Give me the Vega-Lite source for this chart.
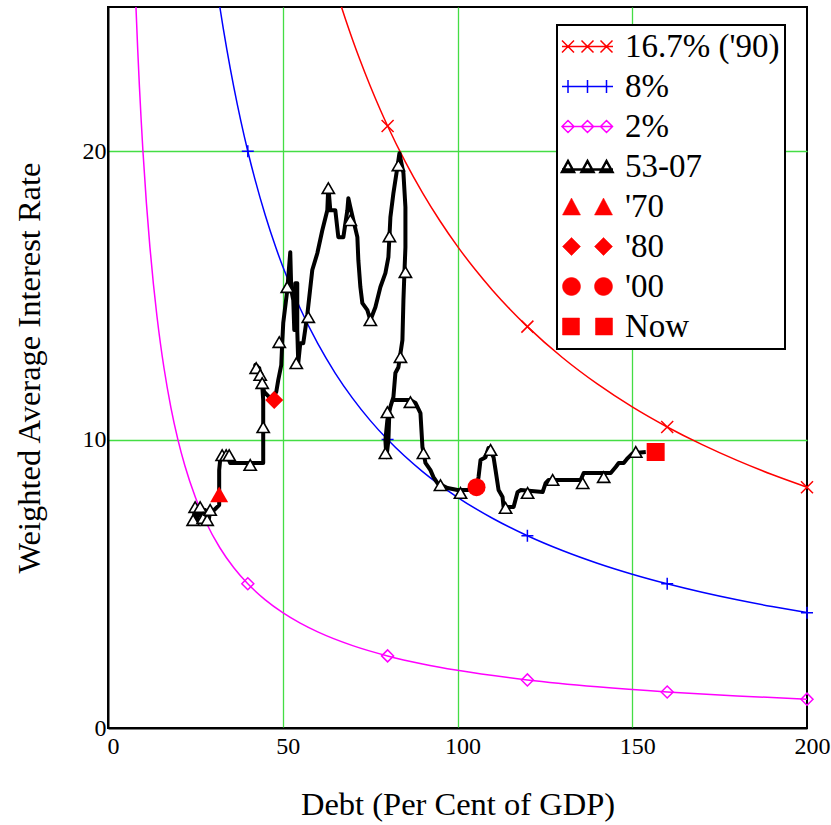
{
  "$schema": "https://vega.github.io/schema/vega-lite/v6.json",
  "width": 699,
  "height": 721,
  "autosize": {"type": "none"},
  "padding": {"left": 108, "top": 7, "right": 24, "bottom": 97},
  "config": {
    "font": "Liberation Serif",
    "view": {"stroke": "black", "strokeWidth": 2},
    "axis": {"labelFont": "Liberation Serif", "titleFont": "Liberation Serif", "labelColor": "black", "titleColor": "black", "titleFontWeight": "normal", "labelFontSize": 24, "titleFontSize": 32.5, "ticks": false, "domainColor": "black", "domainWidth": 2, "gridColor": "#44dd44", "gridWidth": 1.3, "labelFlush": false, "labelOverlap": false, "labelBound": false}
  },
  "datasets": {
    "curves": [
      {"series": "16.7% ('90)", "x": 66.8, "y": 25}, {"series": "16.7% ('90)", "x": 68, "y": 24.559}, {"series": "16.7% ('90)", "x": 70, "y": 23.857}, {"series": "16.7% ('90)", "x": 72, "y": 23.194}, {"series": "16.7% ('90)", "x": 75, "y": 22.267}, {"series": "16.7% ('90)", "x": 78, "y": 21.41}, {"series": "16.7% ('90)", "x": 80, "y": 20.875}, {"series": "16.7% ('90)", "x": 85, "y": 19.647}, {"series": "16.7% ('90)", "x": 90, "y": 18.556}, {"series": "16.7% ('90)", "x": 95, "y": 17.579}, {"series": "16.7% ('90)", "x": 100, "y": 16.7}, {"series": "16.7% ('90)", "x": 105, "y": 15.905}, {"series": "16.7% ('90)", "x": 110, "y": 15.182}, {"series": "16.7% ('90)", "x": 115, "y": 14.522}, {"series": "16.7% ('90)", "x": 120, "y": 13.917}, {"series": "16.7% ('90)", "x": 130, "y": 12.846}, {"series": "16.7% ('90)", "x": 140, "y": 11.929}, {"series": "16.7% ('90)", "x": 150, "y": 11.133}, {"series": "16.7% ('90)", "x": 160, "y": 10.438}, {"series": "16.7% ('90)", "x": 170, "y": 9.824}, {"series": "16.7% ('90)", "x": 180, "y": 9.278}, {"series": "16.7% ('90)", "x": 190, "y": 8.789}, {"series": "16.7% ('90)", "x": 200, "y": 8.35},
      {"series": "8%", "x": 32, "y": 25}, {"series": "8%", "x": 33, "y": 24.242}, {"series": "8%", "x": 34, "y": 23.529}, {"series": "8%", "x": 36, "y": 22.222}, {"series": "8%", "x": 38, "y": 21.053}, {"series": "8%", "x": 40, "y": 20}, {"series": "8%", "x": 42, "y": 19.048}, {"series": "8%", "x": 45, "y": 17.778}, {"series": "8%", "x": 48, "y": 16.667}, {"series": "8%", "x": 50, "y": 16}, {"series": "8%", "x": 55, "y": 14.545}, {"series": "8%", "x": 60, "y": 13.333}, {"series": "8%", "x": 65, "y": 12.308}, {"series": "8%", "x": 70, "y": 11.429}, {"series": "8%", "x": 75, "y": 10.667}, {"series": "8%", "x": 80, "y": 10}, {"series": "8%", "x": 90, "y": 8.889}, {"series": "8%", "x": 100, "y": 8}, {"series": "8%", "x": 110, "y": 7.273}, {"series": "8%", "x": 120, "y": 6.667}, {"series": "8%", "x": 130, "y": 6.154}, {"series": "8%", "x": 140, "y": 5.714}, {"series": "8%", "x": 150, "y": 5.333}, {"series": "8%", "x": 160, "y": 5}, {"series": "8%", "x": 170, "y": 4.706}, {"series": "8%", "x": 180, "y": 4.444}, {"series": "8%", "x": 190, "y": 4.211}, {"series": "8%", "x": 200, "y": 4},
      {"series": "2%", "x": 8, "y": 25}, {"series": "2%", "x": 8.5, "y": 23.529}, {"series": "2%", "x": 9, "y": 22.222}, {"series": "2%", "x": 9.5, "y": 21.053}, {"series": "2%", "x": 10, "y": 20}, {"series": "2%", "x": 11, "y": 18.182}, {"series": "2%", "x": 12, "y": 16.667}, {"series": "2%", "x": 13, "y": 15.385}, {"series": "2%", "x": 14, "y": 14.286}, {"series": "2%", "x": 15, "y": 13.333}, {"series": "2%", "x": 16, "y": 12.5}, {"series": "2%", "x": 18, "y": 11.111}, {"series": "2%", "x": 20, "y": 10}, {"series": "2%", "x": 22, "y": 9.091}, {"series": "2%", "x": 25, "y": 8}, {"series": "2%", "x": 28, "y": 7.143}, {"series": "2%", "x": 32, "y": 6.25}, {"series": "2%", "x": 36, "y": 5.556}, {"series": "2%", "x": 40, "y": 5}, {"series": "2%", "x": 45, "y": 4.444}, {"series": "2%", "x": 50, "y": 4}, {"series": "2%", "x": 55, "y": 3.636}, {"series": "2%", "x": 60, "y": 3.333}, {"series": "2%", "x": 70, "y": 2.857}, {"series": "2%", "x": 80, "y": 2.5}, {"series": "2%", "x": 90, "y": 2.222}, {"series": "2%", "x": 100, "y": 2}, {"series": "2%", "x": 120, "y": 1.667}, {"series": "2%", "x": 140, "y": 1.429}, {"series": "2%", "x": 160, "y": 1.25}, {"series": "2%", "x": 180, "y": 1.111}, {"series": "2%", "x": 200, "y": 1}
    ],
    "curveMarks": [
      {"series": "16.7% ('90)", "x": 80, "y": 20.875}, {"series": "16.7% ('90)", "x": 120, "y": 13.917}, {"series": "16.7% ('90)", "x": 160, "y": 10.438}, {"series": "16.7% ('90)", "x": 200, "y": 8.35},
      {"series": "8%", "x": 40, "y": 20}, {"series": "8%", "x": 80, "y": 10}, {"series": "8%", "x": 120, "y": 6.667}, {"series": "8%", "x": 160, "y": 5}, {"series": "8%", "x": 200, "y": 4},
      {"series": "2%", "x": 40, "y": 5}, {"series": "2%", "x": 80, "y": 2.5}, {"series": "2%", "x": 120, "y": 1.667}, {"series": "2%", "x": 160, "y": 1.25}, {"series": "2%", "x": 200, "y": 1}
    ],
    "path": [
      {"i": 1, "x": 24.36, "y": 7.11}, {"i": 2, "x": 24.93, "y": 7.66}, {"i": 3, "x": 25.5, "y": 7.21}, {"i": 4, "x": 26.36, "y": 7.66}, {"i": 5, "x": 27.22, "y": 7.21}, {"i": 6, "x": 27.79, "y": 7.56}, {"i": 7, "x": 28.65, "y": 7.11}, {"i": 8, "x": 29.23, "y": 7.49}, {"i": 9, "x": 30.37, "y": 7.56}, {"i": 10, "x": 31.81, "y": 7.73},
      {"i": 11, "x": 31.81, "y": 8.01}, {"i": 12, "x": 31.81, "y": 8.94}, {"i": 13, "x": 32.09, "y": 9.29}, {"i": 14, "x": 33.24, "y": 9.46}, {"i": 15, "x": 34.38, "y": 9.36}, {"i": 16, "x": 34.96, "y": 9.19}, {"i": 17, "x": 40.69, "y": 9.19}, {"i": 18, "x": 44.41, "y": 9.19}, {"i": 19, "x": 44.41, "y": 10.43}, {"i": 20, "x": 44.41, "y": 11.37},
      {"i": 21, "x": 44.13, "y": 11.89}, {"i": 22, "x": 43.55, "y": 12.24}, {"i": 23, "x": 42.69, "y": 12.55}, {"i": 24, "x": 42.12, "y": 12.58}, {"i": 25, "x": 43.27, "y": 12.48}, {"i": 26, "x": 43.84, "y": 12.06}, {"i": 27, "x": 44.7, "y": 11.65}, {"i": 28, "x": 46.42, "y": 11.44}, {"i": 29, "x": 48.14, "y": 11.65}, {"i": 30, "x": 48.71, "y": 12.06},
      {"i": 31, "x": 49.57, "y": 12.58}, {"i": 32, "x": 49.86, "y": 13.38}, {"i": 33, "x": 50.14, "y": 14.04}, {"i": 34, "x": 51.29, "y": 15.18}, {"i": 35, "x": 52.15, "y": 16.5}, {"i": 36, "x": 52.44, "y": 15.18}, {"i": 37, "x": 53.01, "y": 14.84}, {"i": 38, "x": 53.3, "y": 13.8}, {"i": 39, "x": 53.58, "y": 15.42}, {"i": 40, "x": 54.15, "y": 15.42},
      {"i": 41, "x": 54.15, "y": 13.8}, {"i": 42, "x": 54.44, "y": 12.65}, {"i": 43, "x": 55.01, "y": 13.34}, {"i": 44, "x": 55.87, "y": 13.34}, {"i": 45, "x": 57.02, "y": 14.32}, {"i": 46, "x": 58.45, "y": 15.88}, {"i": 47, "x": 59.89, "y": 16.46}, {"i": 48, "x": 61.32, "y": 17.26}, {"i": 49, "x": 62.75, "y": 17.95}, {"i": 50, "x": 63.04, "y": 18.79},
      {"i": 51, "x": 63.61, "y": 17.95}, {"i": 52, "x": 65.04, "y": 17.95}, {"i": 53, "x": 65.9, "y": 17.02}, {"i": 54, "x": 67.34, "y": 17.02}, {"i": 55, "x": 68.48, "y": 17.95}, {"i": 56, "x": 68.77, "y": 18.37}, {"i": 57, "x": 69.34, "y": 18.06}, {"i": 58, "x": 70.2, "y": 17.61}, {"i": 59, "x": 71.35, "y": 17.02}, {"i": 60, "x": 71.63, "y": 16.22},
      {"i": 61, "x": 72.21, "y": 15.29}, {"i": 62, "x": 72.78, "y": 14.73}, {"i": 63, "x": 74.21, "y": 14.49}, {"i": 64, "x": 75.07, "y": 14.14}, {"i": 65, "x": 76.5, "y": 14.59}, {"i": 66, "x": 77.94, "y": 15.29}, {"i": 67, "x": 79.37, "y": 15.77}, {"i": 68, "x": 80.23, "y": 16.33}, {"i": 69, "x": 80.52, "y": 17.02}, {"i": 70, "x": 80.8, "y": 17.71},
      {"i": 71, "x": 81.66, "y": 18.54}, {"i": 72, "x": 82.81, "y": 19.45}, {"i": 73, "x": 83.38, "y": 19.93}, {"i": 74, "x": 84.53, "y": 19.24}, {"i": 75, "x": 85.1, "y": 18.06}, {"i": 76, "x": 85.1, "y": 16.67}, {"i": 77, "x": 84.81, "y": 15.77}, {"i": 78, "x": 84.53, "y": 14.84}, {"i": 79, "x": 84.24, "y": 13.45}, {"i": 80, "x": 83.09, "y": 12.51},
      {"i": 81, "x": 82.23, "y": 12.31}, {"i": 82, "x": 81.66, "y": 11.47}, {"i": 83, "x": 80.8, "y": 11.13}, {"i": 84, "x": 79.94, "y": 10.68}, {"i": 85, "x": 79.37, "y": 9.98}, {"i": 86, "x": 79.66, "y": 9.39}, {"i": 87, "x": 80.23, "y": 9.98}, {"i": 88, "x": 80.52, "y": 11.02}, {"i": 89, "x": 81.38, "y": 11.37}, {"i": 90, "x": 86.53, "y": 11.37},
      {"i": 91, "x": 87.97, "y": 11.27}, {"i": 92, "x": 89.4, "y": 10.92}, {"i": 93, "x": 89.97, "y": 9.74}, {"i": 94, "x": 90.83, "y": 9.19}, {"i": 95, "x": 92.26, "y": 8.94}, {"i": 96, "x": 93.12, "y": 8.7}, {"i": 97, "x": 94.27, "y": 8.49}, {"i": 98, "x": 97.13, "y": 8.32}, {"i": 99, "x": 100.0, "y": 8.25}, {"i": 100, "x": 102.87, "y": 8.25},
      {"i": 101, "x": 105.44, "y": 8.35}, {"i": 102, "x": 106.02, "y": 8.7}, {"i": 103, "x": 106.59, "y": 9.29}, {"i": 104, "x": 108.02, "y": 9.39}, {"i": 105, "x": 108.88, "y": 9.71}, {"i": 106, "x": 110.32, "y": 9.39}, {"i": 107, "x": 110.89, "y": 8.94}, {"i": 108, "x": 111.75, "y": 8.25}, {"i": 109, "x": 112.89, "y": 8.01}, {"i": 110, "x": 113.18, "y": 7.66},
      {"i": 111, "x": 116.05, "y": 7.66}, {"i": 112, "x": 117.19, "y": 8.18}, {"i": 113, "x": 118.05, "y": 8.25}, {"i": 114, "x": 124.36, "y": 8.18}, {"i": 115, "x": 125.21, "y": 8.49}, {"i": 116, "x": 126.07, "y": 8.6}, {"i": 117, "x": 135.24, "y": 8.6}, {"i": 118, "x": 136.1, "y": 8.84}, {"i": 119, "x": 143.84, "y": 8.84}, {"i": 120, "x": 145.27, "y": 9.05},
      {"i": 121, "x": 146.13, "y": 9.19}, {"i": 122, "x": 147.56, "y": 9.19}, {"i": 123, "x": 148.71, "y": 9.36}, {"i": 124, "x": 150.14, "y": 9.53}, {"i": 125, "x": 153.87, "y": 9.57}
    ],
    "triangles": [
      {"x": 24.93, "y": 7.66}, {"x": 24.36, "y": 7.21}, {"x": 26.36, "y": 7.66}, {"x": 27.22, "y": 7.28}, {"x": 28.37, "y": 7.21}, {"x": 29.23, "y": 7.56},
      {"x": 32.66, "y": 9.46}, {"x": 33.81, "y": 9.46}, {"x": 34.67, "y": 9.46}, {"x": 40.69, "y": 9.12}, {"x": 44.41, "y": 10.43},
      {"x": 42.41, "y": 12.48}, {"x": 43.55, "y": 12.24}, {"x": 44.13, "y": 11.96}, {"x": 49.0, "y": 13.38}, {"x": 51.29, "y": 15.29}, {"x": 53.87, "y": 12.65}, {"x": 57.31, "y": 14.25},
      {"x": 63.04, "y": 18.72}, {"x": 69.34, "y": 17.61}, {"x": 75.07, "y": 14.14}, {"x": 80.52, "y": 17.05}, {"x": 83.09, "y": 19.51}, {"x": 85.1, "y": 15.81}, {"x": 83.67, "y": 12.86},
      {"x": 79.94, "y": 10.95}, {"x": 79.37, "y": 9.53}, {"x": 86.53, "y": 11.3}, {"x": 90.26, "y": 9.53}, {"x": 95.13, "y": 8.42}, {"x": 100.86, "y": 8.15}, {"x": 109.46, "y": 9.64},
      {"x": 113.75, "y": 7.63}, {"x": 120.06, "y": 8.15}, {"x": 127.22, "y": 8.6}, {"x": 135.82, "y": 8.49}, {"x": 141.83, "y": 8.7}, {"x": 151.0, "y": 9.57}
    ],
    "special": [
      {"series": "'70", "x": 31.8, "y": 8.1},
      {"series": "'80", "x": 47.56, "y": 11.37},
      {"series": "'00", "x": 105.44, "y": 8.35},
      {"series": "Now", "x": 156.7, "y": 9.57}
    ]
  },
  "resolve": {"scale": {"color": "shared", "shape": "shared"}},
  "encoding": {
    "x": {"type": "quantitative", "scale": {"domain": [0, 200], "nice": false},
      "axis": {"title": "Debt (Per Cent of GDP)", "values": [0, 50, 100, 150, 200], "labelPadding": 6, "labelOffset": 5, "titlePadding": 30,
        "gridOpacity": {"condition": {"test": "datum.value === 0 || datum.value === 200", "value": 0}, "value": 1}}},
    "y": {"type": "quantitative", "scale": {"domain": [0, 25], "nice": false},
      "axis": {"title": "Weighted Average Interest Rate", "values": [0, 10, 20], "labelPadding": 2, "titlePadding": 36,
        "gridOpacity": {"condition": {"test": "datum.value === 0", "value": 0}, "value": 1}}}
  },
  "layer": [
    {
      "data": {"name": "curves"},
      "mark": {"type": "line", "strokeWidth": 1.5, "interpolate": "monotone"},
      "encoding": {
        "x": {"field": "x", "type": "quantitative"},
        "y": {"field": "y", "type": "quantitative"},
        "color": {"field": "series", "type": "nominal",
          "scale": {"domain": ["16.7% ('90)", "8%", "2%", "53-07", "'70", "'80", "'00", "Now"], "range": ["#ff0000", "#0000ff", "#ff00ff", "#000000", "#ff0000", "#ff0000", "#ff0000", "#ff0000"]},
          "legend": {
            "orient": "none", "legendX": 449, "legendY": 18, "title": null,
            "labelFont": "Liberation Serif", "labelFontSize": 33, "labelColor": "black", "labelLimit": 400,
            "symbolSize": 100, "rowPadding": 6, "padding": 5,
            "fillColor": "white", "strokeColor": "black",
            "encode": {
              "legend": {"update": {"strokeWidth": {"value": 2}}},
              "entries": {"update": {"width": {"value": 226}}},
              "labels": {"update": {"x": {"value": 63}, "y": {"value": 16.5}, "baseline": {"value": "middle"}}},
              "symbols": {"update": {
                "x": {"value": 25.5},
                "y": {"value": 16.5},
                "shape": {"signal": "['M-5.1,0L5.1,0M-5.1,-1.2L-2.7,1.2M-5.1,1.2L-2.7,-1.2M-1.2,-1.2L1.2,1.2M-1.2,1.2L1.2,-1.2M2.6,-1.2L5,1.2M2.6,1.2L5,-1.2', 'M-5.1,0L5.1,0M-3.9,-1.3L-3.9,1.3M0,-1.3L0,1.3M3.8,-1.3L3.8,1.3', 'M-5.1,0L5.1,0M-3.9,-1.2L-2.7,0L-3.9,1.2L-5.1,0ZM0,-1.2L1.2,0L0,1.2L-1.2,0ZM3.8,-1.2L5,0L3.8,1.2L2.6,0Z', 'M-5.1,0.6L5.1,0.6M-3.9,-1.1L-2.7,1.1L-5.1,1.1ZM0,-1.1L1.2,1.1L-1.2,1.1ZM3.8,-1.1L5,1.1L2.6,1.1Z', 'M-3.2,-1.7L-1.4,1.7L-5,1.7ZM3.2,-1.7L5,1.7L1.4,1.7Z', 'M-3.2,-1.8L-1.4,0L-3.2,1.8L-5,0ZM3.2,-1.8L5,0L3.2,1.8L1.4,0Z', 'M-1.4,0A1.8,1.8,0,1,1,-5,0A1.8,1.8,0,1,1,-1.4,0ZM5,0A1.8,1.8,0,1,1,1.4,0A1.8,1.8,0,1,1,5,0Z', 'M-5,-1.7L-1.6,-1.7L-1.6,1.7L-5,1.7ZM1.6,-1.7L5,-1.7L5,1.7L1.6,1.7Z'][datum.index]"},
                "stroke": {"signal": "['#ff0000','#0000ff','#ff00ff','#000000','#ff0000','#ff0000','#ff0000','#ff0000'][datum.index]"},
                "fill": {"signal": "['#ffffff','#ffffff','#ffffff','#ffffff','#ff0000','#ff0000','#ff0000','#ff0000'][datum.index]"},
                "fillOpacity": {"signal": "[0,0,0,0,1,1,1,1][datum.index]"},
                "strokeWidth": {"signal": "[1.5,1.5,1.5,2.5,0.5,0.5,0.5,0.5][datum.index]"},
                "size": {"value": 100},
                "opacity": {"value": 1}
              }}
            }
          }
        },
        "detail": {"field": "series"}
      }
    },
    {
      "data": {"name": "curveMarks"},
      "mark": {"type": "point", "filled": false, "strokeWidth": 1.5, "size": 144, "opacity": 1},
      "encoding": {
        "x": {"field": "x", "type": "quantitative"},
        "y": {"field": "y", "type": "quantitative"},
        "color": {"field": "series", "type": "nominal"},
        "shape": {"field": "series", "type": "nominal", "legend": null,
          "scale": {"domain": ["16.7% ('90)", "8%", "2%", "'70", "'80", "'00", "Now"], "range": ["M-1,-1L1,1M-1,1L1,-1", "M-1,0L1,0M0,-1L0,1", "diamond", "triangle-up", "diamond", "circle", "square"]}}
      }
    },
    {
      "data": {"name": "path"},
      "mark": {"type": "line", "strokeWidth": 4, "strokeJoin": "round"},
      "encoding": {
        "x": {"field": "x", "type": "quantitative"},
        "y": {"field": "y", "type": "quantitative"},
        "order": {"field": "i", "type": "quantitative"},
        "color": {"datum": "53-07"}
      }
    },
    {
      "data": {"name": "triangles"},
      "mark": {"type": "point", "shape": "triangle-up", "filled": true, "fill": "white", "stroke": "black", "strokeWidth": 1.6, "size": 150, "opacity": 1},
      "encoding": {
        "x": {"field": "x", "type": "quantitative"},
        "y": {"field": "y", "type": "quantitative"}
      }
    },
    {
      "data": {"name": "special"},
      "mark": {"type": "point", "filled": true, "size": 324, "opacity": 1},
      "encoding": {
        "x": {"field": "x", "type": "quantitative"},
        "y": {"field": "y", "type": "quantitative"},
        "color": {"field": "series", "type": "nominal"},
        "shape": {"field": "series", "type": "nominal", "legend": null}
      }
    }
  ]
}
